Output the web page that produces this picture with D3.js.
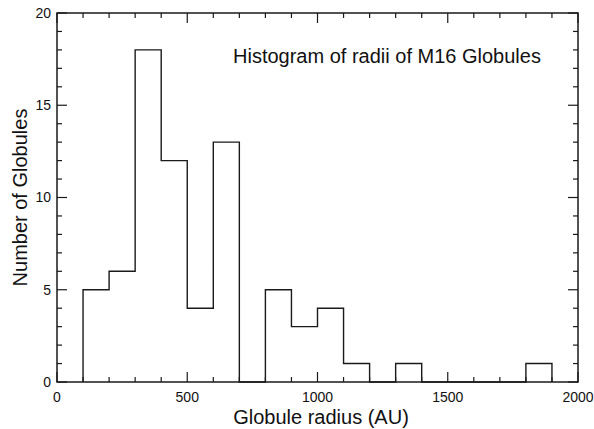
<!DOCTYPE html>
<html>
<head>
<meta charset="utf-8">
<script src="https://cdn.jsdelivr.net/npm/d3@7"></script>
<style>
  body { margin: 0; background: #fff; }
  text { font-family: "Liberation Sans", Arial, sans-serif; fill: #111; }
</style>
</head>
<body>
<div id="chart"></div>
<script>
// histogram bins (lower edge, AU) and counts
var binEdges = [100, 200, 300, 400, 500, 600, 700, 800, 900, 1000, 1100, 1200, 1300, 1400, 1500, 1600, 1700, 1800];
var counts   = [5, 6, 18, 12, 4, 13, 0, 5, 3, 4, 1, 0, 1, 0, 0, 0, 0, 1];
var binWidth = 100;

var xTicks = [0, 500, 1000, 1500, 2000];
var yTicks = [0, 5, 10, 15, 20];

var W = 594, H = 429;
var margin = { left: 57, right: 16, top: 13, bottom: 47 };

var svg = d3.select("#chart").append("svg").attr("width", W).attr("height", H);

var x = d3.scaleLinear().domain([0, 2000]).range([margin.left, W - margin.right]);
var y = d3.scaleLinear().domain([0, 20]).range([H - margin.bottom, margin.top]);

var ink = "#1a1a1a";

// frame
svg.append("rect")
  .attr("x", x(0)).attr("y", y(20))
  .attr("width", x(2000) - x(0)).attr("height", y(0) - y(20))
  .attr("fill", "none").attr("stroke", ink).attr("stroke-width", 1.5);

// ticks on all four sides, major + minor
var xMinor = d3.range(0, 2001, 100);
var yMinor = d3.range(0, 21, 1);

function tickLen(v, step) { return v % step === 0 ? 10 : 5; }

xMinor.forEach(function(v) {
  var l = tickLen(v, 500);
  svg.append("line").attr("x1", x(v)).attr("x2", x(v))
    .attr("y1", y(0)).attr("y2", y(0) - l).attr("stroke", ink).attr("stroke-width", 1.2);
  svg.append("line").attr("x1", x(v)).attr("x2", x(v))
    .attr("y1", y(20)).attr("y2", y(20) + l).attr("stroke", ink).attr("stroke-width", 1.2);
});

yMinor.forEach(function(v) {
  var l = tickLen(v, 5);
  svg.append("line").attr("x1", x(0)).attr("x2", x(0) + l)
    .attr("y1", y(v)).attr("y2", y(v)).attr("stroke", ink).attr("stroke-width", 1.2);
  svg.append("line").attr("x1", x(2000)).attr("x2", x(2000) - l)
    .attr("y1", y(v)).attr("y2", y(v)).attr("stroke", ink).attr("stroke-width", 1.2);
});

// tick labels
svg.selectAll(".xl").data(xTicks).enter().append("text")
  .attr("x", function(d) { return x(d); })
  .attr("y", y(0) + 20)
  .attr("text-anchor", "middle")
  .style("font-size", "14px")
  .text(function(d) { return d; });

svg.selectAll(".yl").data(yTicks).enter().append("text")
  .attr("x", x(0) - 6)
  .attr("y", function(d) { return y(d); })
  .attr("dy", ".35em")
  .attr("text-anchor", "end")
  .style("font-size", "14px")
  .text(function(d) { return d; });

// histogram step outline
var pts = [];
binEdges.forEach(function(e, i) {
  var prev = i === 0 ? 0 : counts[i - 1];
  pts.push([e, prev]);
  pts.push([e, counts[i]]);
  pts.push([e + binWidth, counts[i]]);
});
pts.push([binEdges[binEdges.length - 1] + binWidth, 0]);

var line = d3.line().x(function(d) { return x(d[0]); }).y(function(d) { return y(d[1]); });

svg.append("path")
  .attr("d", line(pts))
  .attr("fill", "none")
  .attr("stroke", ink)
  .attr("stroke-width", 1.4);

// titles
svg.append("text")
  .attr("x", 233).attr("y", 63)
  .style("font-size", "20px")
  .text("Histogram of radii of M16 Globules");

svg.append("text")
  .attr("x", 321).attr("y", 424)
  .attr("text-anchor", "middle")
  .style("font-size", "20px")
  .text("Globule radius (AU)");

svg.append("text")
  .attr("transform", "translate(27," + ((y(0) + y(20)) / 2) + ") rotate(-90)")
  .attr("text-anchor", "middle")
  .style("font-size", "20px")
  .text("Number of Globules");
</script>
</body>
</html>
